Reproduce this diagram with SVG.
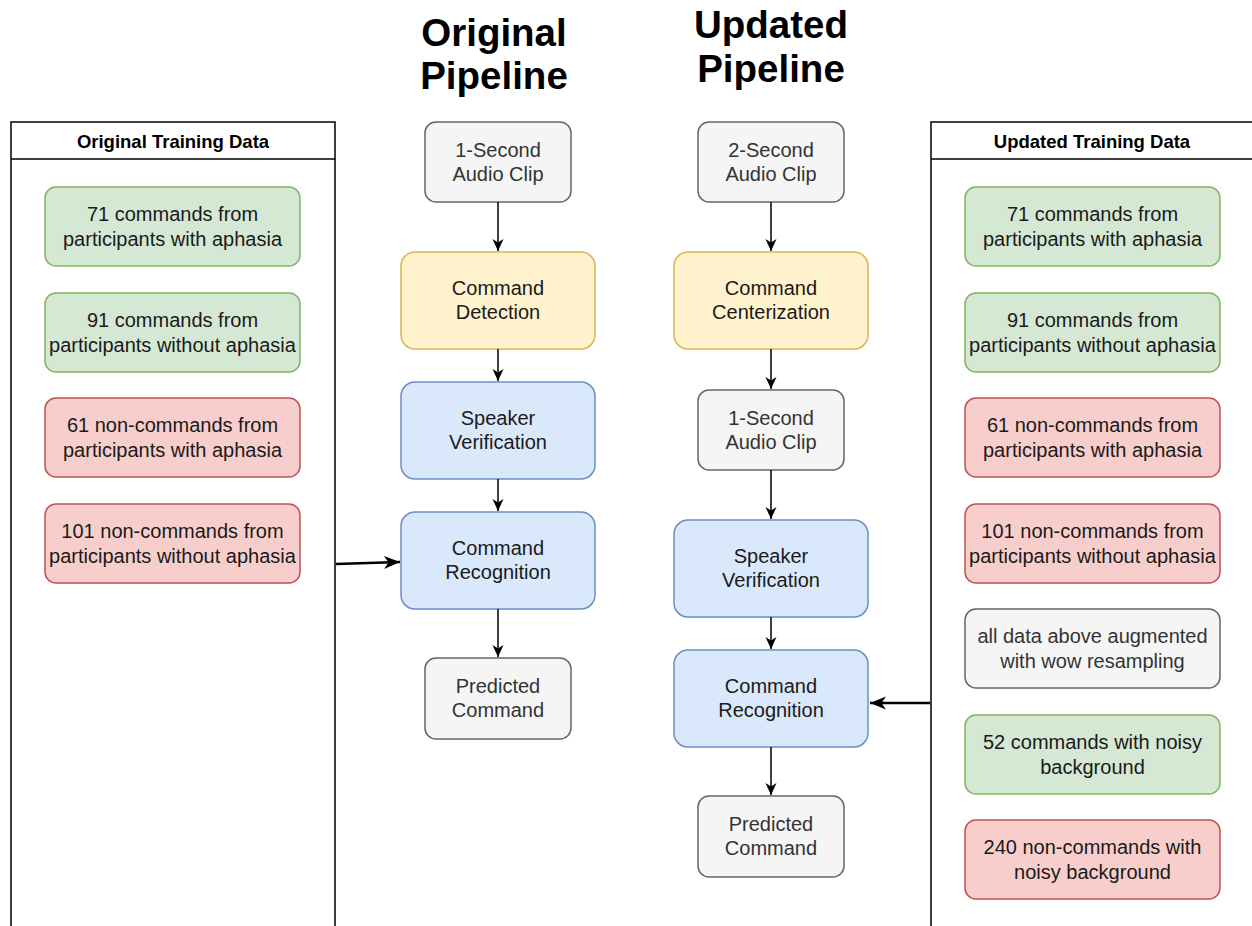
<svg xmlns="http://www.w3.org/2000/svg" width="1252" height="926" viewBox="0 0 1252 926">
<defs>
<style>
text{font-family:"Liberation Sans",Arial,Helvetica,sans-serif;fill:#1a1a1a;text-anchor:middle}
.t{font-size:20px;dominant-baseline:central}
.title{font-size:38.5px;font-weight:bold;fill:#000}
.hdr{font-size:18.5px;font-weight:bold;fill:#000;dominant-baseline:central}
.gray{fill:#f5f5f5;stroke:#666666;stroke-width:1.5}
.gtext{fill:#333333}
.yel{fill:#fff2cc;stroke:#d6b656;stroke-width:1.5}
.blue{fill:#dae8fc;stroke:#6c8ebf;stroke-width:1.5}
.green{fill:#d5e8d4;stroke:#82b366;stroke-width:1.5}
.red{fill:#f8cecc;stroke:#b85450;stroke-width:1.5}
.cont{fill:#ffffff;stroke:#000;stroke-width:1.5}
.edge{stroke:#000;stroke-width:1.5;fill:none;marker-end:url(#ah)}
.edge2{stroke:#000;stroke-width:2.5;fill:none;marker-end:url(#ah2)}
</style>
<marker id="ah" markerUnits="userSpaceOnUse" viewBox="0 0 13 13" markerWidth="13" markerHeight="13" refX="12" refY="6.5" orient="auto">
<path d="M0,1 L12,6.5 L0,12 L3.5,6.5 z" fill="#000"/>
</marker>
<marker id="ah2" markerUnits="userSpaceOnUse" viewBox="0 0 17 15" markerWidth="17" markerHeight="15" refX="16" refY="7.5" orient="auto">
<path d="M0,1 L16,7.5 L0,14 L4.5,7.5 z" fill="#000"/>
</marker>
</defs>
<rect width="1252" height="926" fill="#ffffff"/>

<g id="title-original">
<text class="title" x="494" y="46">Original</text>
<text class="title" x="494" y="89">Pipeline</text>
</g>
<g id="title-updated">
<text class="title" x="771" y="38">Updated</text>
<text class="title" x="771" y="82">Pipeline</text>
</g>

<g id="original-training-data">
<path class="cont" d="M11,935 L11,122 L335,122 L335,935"/>
<line x1="11" y1="159" x2="335" y2="159" stroke="#000" stroke-width="1.5"/>
<text class="hdr" x="173" y="141">Original Training Data</text>
</g>
<g id="updated-training-data">
<path class="cont" d="M931,935 L931,122 L1260,122"/>
<line x1="931" y1="159" x2="1260" y2="159" stroke="#000" stroke-width="1.5"/>
<text class="hdr" x="1092" y="141">Updated Training Data</text>
</g>

<g id="o-d1"><rect class="green" x="45" y="187" width="255" height="79" rx="11"/><text class="t" x="172.5" y="214">71 commands from</text><text class="t" x="172.5" y="239">participants with aphasia</text></g>
<g id="o-d2"><rect class="green" x="45" y="293" width="255" height="79" rx="11"/><text class="t" x="172.5" y="320">91 commands from</text><text class="t" x="172.5" y="345">participants without aphasia</text></g>
<g id="o-d3"><rect class="red" x="45" y="398" width="255" height="79" rx="11"/><text class="t" x="172.5" y="425">61 non-commands from</text><text class="t" x="172.5" y="450">participants with aphasia</text></g>
<g id="o-d4"><rect class="red" x="45" y="504" width="255" height="79" rx="11"/><text class="t" x="172.5" y="531">101 non-commands from</text><text class="t" x="172.5" y="556">participants without aphasia</text></g>

<g id="u-d1"><rect class="green" x="965" y="187" width="255" height="79" rx="11"/><text class="t" x="1092.5" y="214">71 commands from</text><text class="t" x="1092.5" y="239">participants with aphasia</text></g>
<g id="u-d2"><rect class="green" x="965" y="293" width="255" height="79" rx="11"/><text class="t" x="1092.5" y="320">91 commands from</text><text class="t" x="1092.5" y="345">participants without aphasia</text></g>
<g id="u-d3"><rect class="red" x="965" y="398" width="255" height="79" rx="11"/><text class="t" x="1092.5" y="425">61 non-commands from</text><text class="t" x="1092.5" y="450">participants with aphasia</text></g>
<g id="u-d4"><rect class="red" x="965" y="504" width="255" height="79" rx="11"/><text class="t" x="1092.5" y="531">101 non-commands from</text><text class="t" x="1092.5" y="556">participants without aphasia</text></g>
<g id="u-d5"><rect class="gray" x="965" y="609" width="255" height="79" rx="11"/><text class="t gtext" x="1092.5" y="636">all data above augmented</text><text class="t gtext" x="1092.5" y="661">with wow resampling</text></g>
<g id="u-d6"><rect class="green" x="965" y="715" width="255" height="79" rx="11"/><text class="t" x="1092.5" y="742">52 commands with noisy</text><text class="t" x="1092.5" y="767">background</text></g>
<g id="u-d7"><rect class="red" x="965" y="820" width="255" height="79" rx="11"/><text class="t" x="1092.5" y="847">240 non-commands with</text><text class="t" x="1092.5" y="872">noisy background</text></g>

<g id="o-clip"><rect class="gray" x="425" y="122" width="146" height="80" rx="11"/><text class="t gtext" x="498" y="150">1-Second</text><text class="t gtext" x="498" y="174">Audio Clip</text></g>
<g id="o-detect"><rect class="yel" x="401" y="252" width="194" height="97" rx="14"/><text class="t" x="498" y="288">Command</text><text class="t" x="498" y="312">Detection</text></g>
<g id="o-speaker"><rect class="blue" x="401" y="382" width="194" height="97" rx="14"/><text class="t" x="498" y="418">Speaker</text><text class="t" x="498" y="442">Verification</text></g>
<g id="o-recog"><rect class="blue" x="401" y="512" width="194" height="97" rx="14"/><text class="t" x="498" y="548">Command</text><text class="t" x="498" y="572">Recognition</text></g>
<g id="o-pred"><rect class="gray" x="425" y="658" width="146" height="81" rx="11"/><text class="t gtext" x="498" y="686">Predicted</text><text class="t gtext" x="498" y="710">Command</text></g>

<g id="u-clip2"><rect class="gray" x="698" y="122" width="146" height="80" rx="11"/><text class="t gtext" x="771" y="150">2-Second</text><text class="t gtext" x="771" y="174">Audio Clip</text></g>
<g id="u-center"><rect class="yel" x="674" y="252" width="194" height="97" rx="14"/><text class="t" x="771" y="288">Command</text><text class="t" x="771" y="312">Centerization</text></g>
<g id="u-clip1"><rect class="gray" x="698" y="390" width="146" height="80" rx="11"/><text class="t gtext" x="771" y="418">1-Second</text><text class="t gtext" x="771" y="442">Audio Clip</text></g>
<g id="u-speaker"><rect class="blue" x="674" y="520" width="194" height="97" rx="14"/><text class="t" x="771" y="556">Speaker</text><text class="t" x="771" y="580">Verification</text></g>
<g id="u-recog"><rect class="blue" x="674" y="650" width="194" height="97" rx="14"/><text class="t" x="771" y="686">Command</text><text class="t" x="771" y="710">Recognition</text></g>
<g id="u-pred"><rect class="gray" x="698" y="796" width="146" height="81" rx="11"/><text class="t gtext" x="771" y="824">Predicted</text><text class="t gtext" x="771" y="848">Command</text></g>

<g id="connectors">
<line class="edge" x1="498" y1="202" x2="498" y2="251"/>
<line class="edge" x1="498" y1="349" x2="498" y2="381"/>
<line class="edge" x1="498" y1="479" x2="498" y2="511"/>
<line class="edge" x1="498" y1="609" x2="498" y2="657"/>
<line class="edge" x1="771" y1="202" x2="771" y2="251"/>
<line class="edge" x1="771" y1="349" x2="771" y2="389"/>
<line class="edge" x1="771" y1="470" x2="771" y2="519"/>
<line class="edge" x1="771" y1="617" x2="771" y2="649"/>
<line class="edge" x1="771" y1="747" x2="771" y2="795"/>
<line class="edge2" x1="336" y1="564" x2="400" y2="562"/>
<line class="edge2" x1="930" y1="703" x2="870" y2="703"/>
</g>
</svg>
